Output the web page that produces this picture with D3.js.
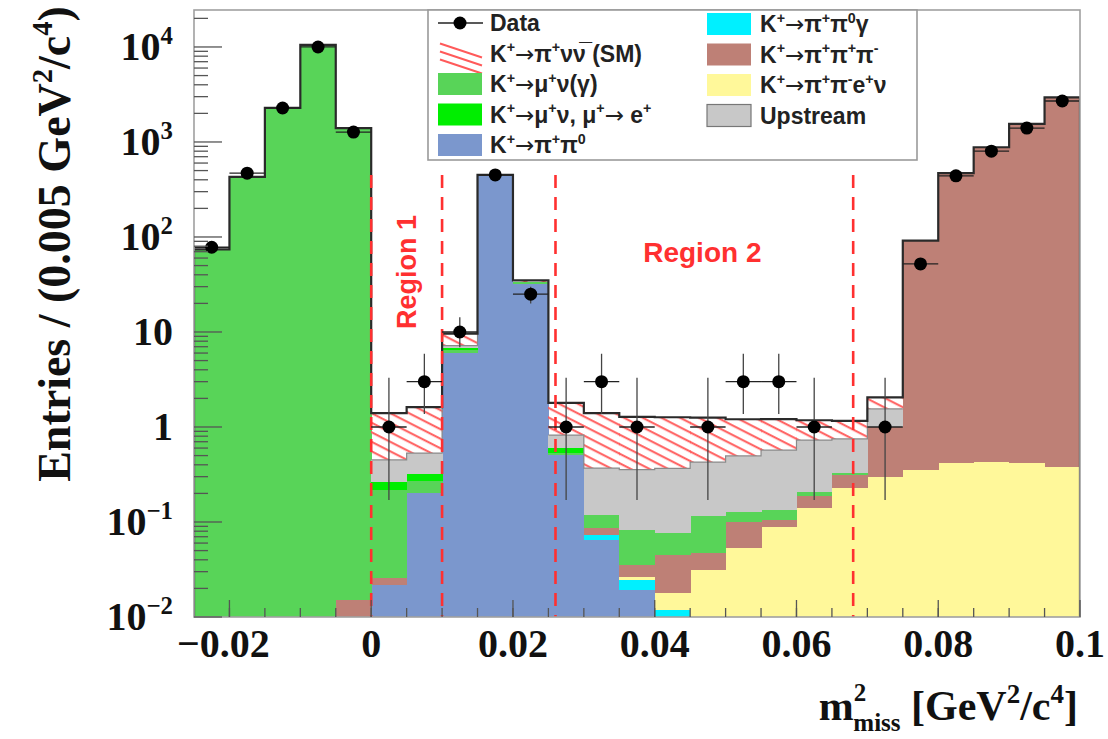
<!DOCTYPE html>
<html>
<head>
<meta charset="utf-8">
<script src="https://cdn.jsdelivr.net/npm/d3@7"></script>
<style>
  body { margin: 0; background: #fff; }
  svg { display: block; }
</style>
</head>
<body>
<svg id="chart" width="1108" height="739"></svg>
<script>
// m2miss bins, 0.005 GeV2/c4 wide
const binCenters = [-0.0225, -0.0175, -0.0125, -0.0075, -0.0025,
  0.0025, 0.0075, 0.0125, 0.0175, 0.0225,
  0.0275, 0.0325, 0.0375, 0.0425, 0.0475,
  0.0525, 0.0575, 0.0625, 0.0675, 0.0725,
  0.0775, 0.0825, 0.0875, 0.0925, 0.0975];
const binWidth = 0.005;

// MC components, stacked bottom -> top
const pipi0    = [0, 0, 0, 0, 0, 0.0217, 0.20, 6.0, 445, 32, 0.51, 0.065, 0.0192, 0, 0, 0, 0, 0, 0, 0, 0, 0, 0, 0, 0];
const pipi0g   = [0, 0, 0, 0, 0, 0, 0, 0, 0, 0, 0, 0.008, 0.0053, 0.0118, 0, 0, 0, 0, 0, 0, 0, 0, 0, 0, 0];
const ke4      = [0, 0, 0, 0, 0, 0, 0, 0, 0, 0, 0, 0, 0.0019, 0.0062, 0.031, 0.053, 0.089, 0.14, 0.23, 0.30, 0.35, 0.42, 0.43, 0.42, 0.38];
const k3pi     = [0, 0, 0, 0, 0.015, 0.004, 0, 0, 0, 0, 0, 0.013, 0.0086, 0.027, 0.016, 0.047, 0.016, 0.05, 0.08, 0.70, 91, 470, 880, 1550, 2950];
const kmu2     = [74, 430, 2280, 10500, 1400, 0.19, 0.07, 0.5, 0, 1.5, 0.02, 0.033, 0.047, 0.032, 0.069, 0.027, 0.029, 0.018, 0.02, 0, 0, 0, 0, 0, 0];
const kmu2e    = [0, 0, 0, 0, 0, 0.045, 0.05, 0.3, 0, 0, 0.07, 0, 0, 0, 0, 0, 0, 0, 0, 0, 0, 0, 0, 0, 0];
const upstream = [0, 0, 0, 0, 0, 0.19, 0.21, 0.4, 2, 0, 0.22, 0.25, 0.274, 0.29, 0.31, 0.37, 0.436, 0.52, 0.42, 0.55, 0, 0, 0, 0, 0];
const smSignal = [0, 0, 0, 0, 0, 0.95, 1.09, 2.4, 3, 1.5, 0.97, 1.03, 0.92, 0.90, 0.83, 0.71, 0.64, 0.45, 0.41, 0.5, 0, 0, 0, 0, 0];

// data with asymmetric (Poisson) error limits; null = empty bin
const dataCounts = [78, 470, 2280, 10000, 1270, 1, 3, 10, 450, 25, 1, 3, 1, null, 1, 3, 3, 1, null, 1, 52, 440, 800, 1400, 2700];
const dataLow    = [70, 449, 2232, 9900, 1234, 0.17, 1.37, 6.9, 429, 20, 0.17, 1.37, 0.17, null, 0.17, 1.37, 1.37, 0.17, null, 0.17, 45, 419, 772, 1363, 2648];
const dataHigh   = [87, 492, 2328, 10100, 1306, 3.3, 5.9, 14.3, 472, 30, 3.3, 5.9, 3.3, null, 3.3, 5.9, 5.9, 3.3, null, 3.3, 60, 461, 828, 1437, 2752];

const regionEdges = [0, 0.01, 0.026, 0.068];
const regionLabels = ["Region 1", "Region 2"];

const xTicks = [-0.02, 0, 0.02, 0.04, 0.06, 0.08, 0.1];
const xTickLabels = ["\u22120.02", "0", "0.02", "0.04", "0.06", "0.08", "0.1"];
const yTicks = [1e4, 1e3, 1e2, 10, 1, 0.1, 0.01];
const yTickLabels = ["10^{4}", "10^{3}", "10^{2}", "10", "1", "10^{\u22121}", "10^{\u22122}"];

const keys = ["pipi0", "pipi0g", "ke4", "k3pi", "kmu2", "kmu2e", "upstream", "sm"];
const colors = {
  pipi0: "#7b97cd", pipi0g: "#00f0ff", ke4: "#fff89a", k3pi: "#be8076",
  kmu2: "#58d458", kmu2e: "#00ee00", upstream: "#c8c8c8", sm: "url(#hatch)"
};

const legendLeft = [
  ["data", "Data"],
  ["sm", "K^{+}\u2192\u03c0^{+}\u03bd\u03bd\u0305 (SM)"],
  ["kmu2", "K^{+}\u2192\u03bc^{+}\u03bd(\u03b3)"],
  ["kmu2e", "K^{+}\u2192\u03bc^{+}\u03bd, \u03bc^{+}\u2192 e^{+}"],
  ["pipi0", "K^{+}\u2192\u03c0^{+}\u03c0^{0}"]
];
const legendRight = [
  ["pipi0g", "K^{+}\u2192\u03c0^{+}\u03c0^{0}\u03b3"],
  ["k3pi", "K^{+}\u2192\u03c0^{+}\u03c0^{+}\u03c0^{-}"],
  ["ke4", "K^{+}\u2192\u03c0^{+}\u03c0^{-}e^{+}\u03bd"],
  ["upstream", "Upstream"]
];

// table for d3.stack
const table = binCenters.map((c, i) => ({
  c: c, pipi0: pipi0[i], pipi0g: pipi0g[i], ke4: ke4[i], k3pi: k3pi[i],
  kmu2: kmu2[i], kmu2e: kmu2e[i], upstream: upstream[i], sm: smSignal[i]
}));
const series = d3.stack().keys(keys)(table);

const svg = d3.select("#chart");
const margin = { left: 194, right: 1080, top: 10, bottom: 617 };

const x = d3.scaleLinear().domain([-0.025, 0.1]).range([margin.left, margin.right]);
const y = d3.scaleLog().domain([0.01, 24500]).range([margin.bottom, margin.top]);
const yc = v => y(Math.max(v, 0.01));

// hatch pattern
const defs = svg.append("defs");
const pat = defs.append("pattern")
  .attr("id", "hatch")
  .attr("patternUnits", "userSpaceOnUse")
  .attr("width", 12).attr("height", 8.5)
  .attr("patternTransform", "rotate(27)");
pat.append("line")
  .attr("x1", 0).attr("x2", 12).attr("y1", 4).attr("y2", 4)
  .attr("stroke", "#ff5a5a").attr("stroke-width", 2);
defs.append("clipPath").attr("id", "plotclip").append("rect")
  .attr("x", margin.left).attr("y", margin.top)
  .attr("width", margin.right - margin.left).attr("height", margin.bottom - margin.top);

// rich text: ^{..} superscript, _{..} subscript, arrows in DejaVu
function rich(sel, str, size) {
  const parts = str.split(/(\^\{[^}]*\}|_\{[^}]*\}|\u2192)/).filter(s => s.length);
  let shift = 0;
  parts.forEach(p => {
    let kind = "n", s = p;
    if (p.startsWith("^{")) { kind = "sup"; s = p.slice(2, -1); }
    else if (p.startsWith("_{")) { kind = "sub"; s = p.slice(2, -1); }
    const target = kind === "sup" ? -0.4 * size : kind === "sub" ? 0.25 * size : 0;
    const ts = sel.append("tspan")
      .attr("dy", target - shift)
      .attr("font-size", kind === "n" ? size : size * 0.62)
      .text(s);
    if (s === "\u2192") ts.attr("font-family", "DejaVu Sans, sans-serif").attr("font-weight", "normal");
    shift = target;
  });
  return sel;
}

const plot = svg.append("g").attr("clip-path", "url(#plotclip)");

// stacked histogram
series.forEach(s => {
  plot.append("g")
    .selectAll("rect")
    .data(s.filter(d => d[1] - d[0] > 0))
    .join("rect")
      .attr("x", d => x(d.data.c - binWidth / 2))
      .attr("width", x(binWidth) - x(0) + 0.5)
      .attr("y", d => yc(d[1]))
      .attr("height", d => yc(d[0]) - yc(d[1]))
      .attr("fill", colors[s.key])
      .attr("shape-rendering", "crispEdges");
});

// step outline, with gaps where the value is zero
function stepPoints(vals) {
  const pts = [];
  vals.forEach((v, i) => {
    if (v <= 0) { pts.push(null); return; }
    pts.push([x(binCenters[i] - binWidth / 2), yc(v)]);
    pts.push([x(binCenters[i] + binWidth / 2), yc(v)]);
  });
  return pts;
}
const gapLine = d3.line().defined(p => p !== null);

// outline under the signal (top of upstream)
const upTop = series[6].map((d, i) => (upstream[i] > 0 ? d[1] : 0));
plot.append("path")
  .attr("d", gapLine(stepPoints(upTop)))
  .attr("fill", "none").attr("stroke", "#8a8a8a").attr("stroke-width", 1.2);

// total
const totals = series[series.length - 1].map(d => d[1]);
const totPts = [[x(-0.025), yc(0.01)]].concat(stepPoints(totals));
totPts.push([x(0.1), y(0.01)]);
plot.append("path")
  .attr("d", gapLine(totPts))
  .attr("fill", "none").attr("stroke", "#2a2a2a").attr("stroke-width", 2.2);

// region lines
svg.append("g").selectAll("line")
  .data(regionEdges)
  .join("line")
    .attr("x1", d => x(d)).attr("x2", d => x(d))
    .attr("y1", 175).attr("y2", margin.bottom)
    .attr("stroke", "#ff3030").attr("stroke-width", 2.6)
    .attr("stroke-dasharray", "13,9");

svg.append("text")
  .attr("transform", `translate(${(x(regionEdges[0]) + x(regionEdges[1])) / 2 + 9},272) rotate(-90)`)
  .attr("text-anchor", "middle")
  .attr("font-family", "Liberation Sans, Arial, sans-serif")
  .attr("font-weight", "bold").attr("font-size", 27).attr("fill", "#ff3030")
  .text(regionLabels[0]);
svg.append("text")
  .attr("x", (x(regionEdges[2]) + x(regionEdges[3])) / 2 - 2).attr("y", 262)
  .attr("text-anchor", "middle")
  .attr("font-family", "Liberation Sans, Arial, sans-serif")
  .attr("font-weight", "bold").attr("font-size", 28).attr("fill", "#ff3030")
  .text(regionLabels[1]);

// data points
const pts = dataCounts.map((n, i) => ({ c: binCenters[i], n: n, lo: dataLow[i], hi: dataHigh[i] }))
  .filter(d => d.n !== null);
const dg = svg.append("g").attr("clip-path", "url(#plotclip)");
dg.selectAll("line.ev")
  .data(pts)
  .join("line")
    .attr("class", "ev")
    .attr("x1", d => x(d.c)).attr("x2", d => x(d.c))
    .attr("y1", d => yc(d.lo)).attr("y2", d => yc(d.hi))
    .attr("stroke", "#444").attr("stroke-width", 1.3);
dg.selectAll("line.eh")
  .data(pts)
  .join("line")
    .attr("class", "eh")
    .attr("x1", d => x(d.c - binWidth / 2)).attr("x2", d => x(d.c + binWidth / 2))
    .attr("y1", d => yc(d.n)).attr("y2", d => yc(d.n))
    .attr("stroke", "#222").attr("stroke-width", 1.3);
dg.selectAll("circle")
  .data(pts)
  .join("circle")
    .attr("cx", d => x(d.c)).attr("cy", d => yc(d.n))
    .attr("r", 6.5).attr("fill", "#000");

// frame
svg.append("rect")
  .attr("x", margin.left).attr("y", margin.top)
  .attr("width", margin.right - margin.left).attr("height", margin.bottom - margin.top)
  .attr("fill", "none").attr("stroke", "#a0a0a0").attr("stroke-width", 1.6);

// y ticks
const yMinor = [];
for (let e = -2; e <= 4; e++) for (let k = 2; k <= 9; k++) {
  const v = k * Math.pow(10, e);
  if (v < 24500) yMinor.push(v);
}
const ax = svg.append("g").attr("stroke", "#555").attr("stroke-width", 1.3);
ax.selectAll("line.ymaj").data(yTicks).join("line")
  .attr("x1", margin.left).attr("x2", margin.left + 28)
  .attr("y1", d => y(d)).attr("y2", d => y(d));
ax.selectAll("line.ymin").data(yMinor).join("line")
  .attr("x1", margin.left).attr("x2", margin.left + 14)
  .attr("y1", d => y(d)).attr("y2", d => y(d));

// x ticks
const xMinor = d3.range(-0.02, 0.1, 0.005).map(v => +v.toFixed(3));
ax.selectAll("line.xmin").data(xMinor).join("line")
  .attr("x1", d => x(d)).attr("x2", d => x(d))
  .attr("y1", margin.bottom).attr("y2", margin.bottom - 9);
ax.selectAll("line.xmaj").data(xTicks).join("line")
  .attr("x1", d => x(d)).attr("x2", d => x(d))
  .attr("y1", margin.bottom).attr("y2", margin.bottom - 17);

const serif = "Liberation Serif, Times New Roman, serif";
yTicks.forEach((t, i) => {
  const tx = svg.append("text")
    .attr("x", 173).attr("y", y(t) + 13)
    .attr("text-anchor", "end")
    .attr("font-family", serif).attr("font-weight", "bold").attr("fill", "#111");
  rich(tx, yTickLabels[i], 40);
});
svg.append("g").selectAll("text")
  .data(xTicks)
  .join("text")
    .attr("x", (d, i) => x(d) - (i === 0 ? 6 : 0)).attr("y", 657)
    .attr("text-anchor", "middle")
    .attr("font-family", serif).attr("font-weight", "bold").attr("font-size", 40).attr("fill", "#111")
    .text((d, i) => xTickLabels[i]);

// axis titles
const xt = svg.append("text")
  .attr("x", 1078).attr("y", 720)
  .attr("text-anchor", "end")
  .attr("font-family", serif).attr("font-weight", "bold").attr("fill", "#111");
xt.append("tspan").attr("font-size", 42).text("m");
xt.append("tspan").attr("font-size", 25).attr("dy", -19).text("2");
xt.append("tspan").attr("font-size", 25).attr("dy", 30).attr("dx", -13).text("miss");
xt.append("tspan").attr("font-size", 42).attr("dy", -11).text(" [GeV");
xt.append("tspan").attr("font-size", 27).attr("dy", -17).text("2");
xt.append("tspan").attr("font-size", 42).attr("dy", 17).text("/c");
xt.append("tspan").attr("font-size", 27).attr("dy", -17).text("4");
xt.append("tspan").attr("font-size", 42).attr("dy", 17).text("]");

const yt = svg.append("text")
  .attr("transform", "translate(70,244) rotate(-90)")
  .attr("text-anchor", "middle")
  .attr("font-family", serif).attr("font-weight", "bold").attr("fill", "#111");
rich(yt, "Entries / (0.005 GeV^{2}/c^{4})", 46);

// legend
const lg = svg.append("g");
lg.append("rect")
  .attr("x", 428).attr("y", margin.top).attr("width", 489).attr("height", 150)
  .attr("fill", "#fff").attr("stroke", "#9a9a9a").attr("stroke-width", 1.6);

function legendEntry(key, label, sx, tx, cy) {
  if (key === "data") {
    lg.append("line").attr("x1", sx).attr("x2", sx + 45).attr("y1", cy).attr("y2", cy)
      .attr("stroke", "#222").attr("stroke-width", 1.4);
    lg.append("circle").attr("cx", sx + 22).attr("cy", cy).attr("r", 6.5).attr("fill", "#000");
  } else if (key === "sm") {
    [0, 8, 16].forEach(o => {
      lg.append("line")
        .attr("x1", sx + 2).attr("y1", cy - 10 + o)
        .attr("x2", sx + 44).attr("y2", cy - 10 + o + 14)
        .attr("stroke", "#ff5a5a").attr("stroke-width", 2);
    });
  } else {
    lg.append("rect").attr("x", sx).attr("y", cy - 11).attr("width", 44).attr("height", 22)
      .attr("fill", colors[key])
      .attr("stroke", key === "upstream" ? "#777" : "none").attr("stroke-width", 1.2);
  }
  const t = lg.append("text").attr("x", tx).attr("y", cy + 8)
    .attr("font-family", "Liberation Sans, Arial, sans-serif")
    .attr("font-weight", "bold").attr("fill", "#222");
  rich(t, label, 23);
}
legendLeft.forEach((e, i) => legendEntry(e[0], e[1], 438, 490, 23 + i * 30.5));
legendRight.forEach((e, i) => legendEntry(e[0], e[1], 707, 760, 24 + i * 30.5));
</script>
</body>
</html>
